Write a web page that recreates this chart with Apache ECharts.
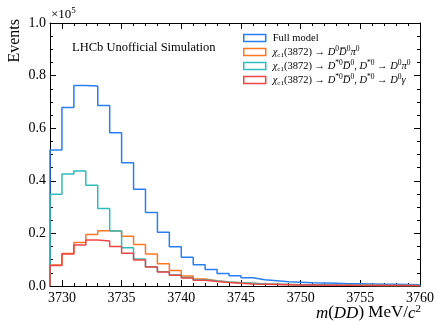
<!DOCTYPE html>
<html><head><meta charset="utf-8">
<script src="https://cdn.jsdelivr.net/npm/echarts@6/dist/echarts.min.js"></script>
<style>html,body{margin:0;padding:0;background:#fff}#c{width:437px;height:323px}</style>
</head><body><div id="c"></div>
<script>
// bins: 1 MeV wide, starting at 3729 MeV (values in units of 1e5 events)
const binStart = 3729;
const binWidth = 1;
const fullModel = [0.517,0.679,0.762,0.760,0.686,0.583,0.469,0.368,0.279,0.204,0.149,0.109,0.081,0.063,0.048,0.039,0.031,0.024,0.020,0.016,0.014,0.012,0.011,0.010,0.009,0.009,0.008,0.007,0.007,0.006,0.005];
const dd0pi0 = [0.080,0.124,0.165,0.196,0.210,0.209,0.189,0.158,0.122,0.085,0.059,0.038,0.027,0.020,0.015,0.012,0.010,0.008,0.007,0.006,0.005,0.004,0.004,0.003,0.003,0.003,0.003,0.002,0.002,0.002,0.002];
const dstarPi0 = [0.349,0.426,0.437,0.383,0.295,0.209,0.145,0.103,0.073,0.054,0.042,0.032,0.024,0.019,0.015,0.012,0.010,0.008,0.007,0.006,0.005,0.004,0.004,0.003,0.003,0.003,0.002,0.002,0.002,0.002,0.002];
const dstarGamma = [0.078,0.122,0.156,0.175,0.171,0.150,0.125,0.099,0.072,0.053,0.041,0.030,0.022,0.017,0.013,0.010,0.008,0.007,0.006,0.005,0.004,0.004,0.003,0.003,0.003,0.002,0.002,0.002,0.002,0.002,0.001];
const seriesNames = ['Full model','χc1(3872)→D0D̅0π0','χc1(3872)→D*0D̅0, D*0→D0π0','χc1(3872)→D*0D̅0, D*0→D0γ'];
const xMajorTicks = [3730,3735,3740,3745,3750,3755,3760];
const xMinorTicks = [];
for (let v = 3730; v < 3760; v++) if (v % 5 !== 0) xMinorTicks.push(v);

const colors = ['#2a7ff0','#ff7622','#30bcbc','#f04545'];
const FONT = "'Liberation Serif','Times New Roman',serif";

function steps(vals){
  const pts = [[binStart,0]];
  vals.forEach((v,i)=>{ pts.push([binStart+i*binWidth,v]); pts.push([binStart+(i+1)*binWidth,v]); });
  pts.push([binStart+vals.length*binWidth,0]);
  return pts;
}
const legendFmt = {
  [seriesNames[0]]: 'Full model',
  [seriesNames[1]]: '{i|χ}{sb|c1}(3872) → {i|D}{sp|0}{i|D\u0305}{sp|0}{i|π}{sp|0}',
  [seriesNames[2]]: '{i|χ}{sb|c1}(3872) → {i|D}{sp|*0}{i|D\u0305}{sp|0}, {i|D}{sp|*0} → {i|D}{sp|0}{i|π}{sp|0}',
  [seriesNames[3]]: '{i|χ}{sb|c1}(3872) → {i|D}{sp|*0}{i|D\u0305}{sp|0}, {i|D}{sp|*0} → {i|D}{sp|0}{i|γ}'
};
const allData = [fullModel, dd0pi0, dstarPi0, dstarGamma];

const chart = echarts.init(document.getElementById('c'), null, {renderer:'canvas'});
const xBase = {type:'value', min:binStart, max:3760, gridIndex:0, splitLine:{show:false}};
const axLine = {show:true, lineStyle:{color:'#000', width:1}};
chart.setOption({
  animation:false,
  backgroundColor:'#fff',
  grid:{left:50, right:17, top:23, bottom:37, containLabel:false},
  xAxis:[
    Object.assign({}, xBase, {position:'bottom', axisLine:axLine,
      axisTick:{show:true, inside:true, length:6, customValues:xMajorTicks, lineStyle:{color:'#000'}},
      axisLabel:{show:true, customValues:xMajorTicks, color:'#000', fontSize:14, fontFamily:FONT, margin:5, formatter:v=>String(v)}}),
    Object.assign({}, xBase, {position:'bottom', axisLine:{show:false},
      axisTick:{show:true, inside:true, length:3, customValues:xMinorTicks, lineStyle:{color:'#000'}},
      axisLabel:{show:false}}),
    Object.assign({}, xBase, {position:'top', axisLine:axLine,
      axisTick:{show:true, inside:true, length:6, customValues:xMajorTicks, lineStyle:{color:'#000'}},
      axisLabel:{show:false}}),
    Object.assign({}, xBase, {position:'top', axisLine:{show:false},
      axisTick:{show:true, inside:true, length:3, customValues:xMinorTicks, lineStyle:{color:'#000'}},
      axisLabel:{show:false}})
  ],
  yAxis:[
    {type:'value', min:0, max:1, interval:0.2, position:'left', axisLine:axLine, splitLine:{show:false},
     axisTick:{show:true, inside:true, length:6, lineStyle:{color:'#000'}},
     minorTick:{show:true, splitNumber:4, length:3, lineStyle:{color:'#000'}},
     axisLabel:{color:'#000', fontSize:14, fontFamily:FONT, margin:4, formatter:v=>v.toFixed(1)}},
    {type:'value', min:0, max:1, interval:0.2, position:'right', axisLine:axLine, splitLine:{show:false},
     axisTick:{show:true, inside:true, length:6, lineStyle:{color:'#000'}},
     minorTick:{show:true, splitNumber:4, length:3, lineStyle:{color:'#000'}},
     axisLabel:{show:false}}
  ],
  legend:{
    orient:'vertical', left:243, top:31, padding:0, itemWidth:22, itemHeight:7, itemGap:0,
    data: seriesNames.map((n,i)=>({name:n, icon:'rect',
      itemStyle:{color:'#fff', borderColor:colors[i], borderWidth:1.5}})),
    formatter: n => legendFmt[n],
    textStyle:{color:'#000', fontSize:10.5, fontFamily:FONT, lineHeight:14, padding:[0,0,0,2],
      rich:{
        i:{fontStyle:'italic', fontSize:10.5, fontFamily:FONT, lineHeight:14},
        sb:{fontSize:7, fontFamily:FONT, lineHeight:7, verticalAlign:'bottom'},
        sp:{fontSize:7.5, fontFamily:FONT, lineHeight:7, verticalAlign:'top'}
      }}
  },
  graphic:[
    {type:'text', x:51, y:6, style:{text:'{a|×10}{s|5}', fill:'#000',
      rich:{a:{fontSize:13, fontFamily:FONT, lineHeight:15, verticalAlign:'bottom'}, s:{fontSize:9, fontFamily:FONT, lineHeight:9, verticalAlign:'top'}}}},
    {type:'text', x:72, y:48, style:{text:'LHCb Unofficial Simulation', fill:'#000', fontSize:12.5, fontFamily:FONT, verticalAlign:'middle', textVerticalAlign:'middle'}},
    {type:'text', left:7, top:19, rotation:Math.PI/2, style:{text:'Events', fill:'#000', fontSize:16, fontFamily:FONT}},
    {type:'text', x:421, y:304, style:{text:'{i|m}({i|DD}) MeV/{i|c}{s|2}', fill:'#000', align:'right', textAlign:'right',
      rich:{i:{fontStyle:'italic', fontSize:17, fontFamily:FONT, lineHeight:18, verticalAlign:'bottom'}, s:{fontSize:11, fontFamily:FONT, lineHeight:11, verticalAlign:'top'}},
      fontSize:17, fontFamily:FONT, lineHeight:18}}
  ],
  series: allData.map((d,i)=>({
    name: seriesNames[i], type:'line', xAxisIndex:0, yAxisIndex:0,
    data: steps(d), showSymbol:false, symbol:'none', z:2+i,
    lineStyle:{color:colors[i], width:1.5}, itemStyle:{color:colors[i]}
  }))
});
</script></body></html>
